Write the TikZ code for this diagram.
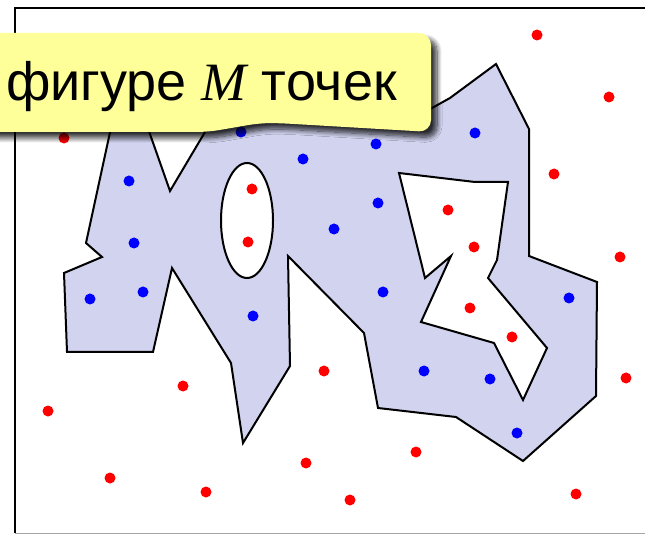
\documentclass[tikz,border=0pt]{standalone}
\usepackage{fontspec}
\setmainfont{Liberation Sans}
\newfontfamily\tnrfont{Liberation Serif}
\usetikzlibrary{shadows.blur}
\definecolor{figfill}{RGB}{209,211,239}
\definecolor{calloutfill}{RGB}{255,255,153}
\definecolor{reddot}{RGB}{255,0,0}
\definecolor{bluedot}{RGB}{0,0,255}
\tikzset{
  shapeline/.style={draw=black, line width=2pt, line join=miter},
  rdot/.style={fill=reddot},
  bdot/.style={fill=bluedot},
}
\begin{document}
\begin{tikzpicture}[x=1pt,y=-1pt]
\useasboundingbox (0,0) rectangle (645,534);
\clip (0,0) rectangle (645,534);
% frame
\draw[black, line width=2.5pt] (15,533) -- (15,8) -- (646,8);
\draw[gray!70, line width=1pt] (15,533) -- (646,533);
% figure
\path[shapeline, fill=figfill] (117,100) -- (86,243) -- (102,257) -- (64,273) -- (67,352) -- (153,352)
  -- (172,268) -- (231,363) -- (243,443) -- (290,366) -- (288,256) -- (364,333) -- (378,408)
  -- (456,417) -- (523,461) -- (596,396) -- (597,282) -- (529,256) -- (529,129) -- (496,64)
  -- (450,98) -- (432,108) -- (420,115) -- (224,100) -- (170,191) -- (138,100) -- cycle;
% hole
\path[shapeline, fill=white] (399,173) -- (475,182) -- (508,182) -- (497,260) -- (488,278)
  -- (547,348) -- (523,400) -- (494,343) -- (421,322) -- (451,256) -- (425,278) -- cycle;
% ellipse hole
\path[shapeline, fill=white] (247,220.5) ellipse [x radius=26, y radius=57.5];
% red dots
\foreach \p in {(537,35),(609,97),(64,138),(554,174),(252,189),(248,242),(448,210),(474,247),
  (620,257),(470,308),(512,337),(183,386),(48,411),(324,371),(626,378),(416,452),(110,478),
  (206,492),(306,463),(350,500),(576,494)}
  \fill[rdot] \p circle[radius=5.5];
% blue dots
\foreach \p in {(241,132),(303,159),(376,144),(475,133),(129,181),(134,243),(143,292),(90,299),
  (253,316),(378,203),(334,229),(383,292),(569,298),(424,371),(490,379),(517,433)}
  \fill[bdot] \p circle[radius=5.5];
% callout
\path[fill=calloutfill, rounded corners=12pt,
  blur shadow={shadow xshift=6pt, shadow yshift=-6pt, shadow blur radius=5pt, shadow blur steps=10, shadow opacity=80}]
  (-30,33) -- (431,33) -- (431,132) -- (277,123) -- (260,123) -- (208,132) -- (-30,132) -- cycle;
\node[anchor=base west, inner sep=0pt, font=\fontsize{54}{60}\selectfont] (label) at (6,101)
  {фигуре {\tnrfont\itshape M} точек};
\end{tikzpicture}
\end{document}
